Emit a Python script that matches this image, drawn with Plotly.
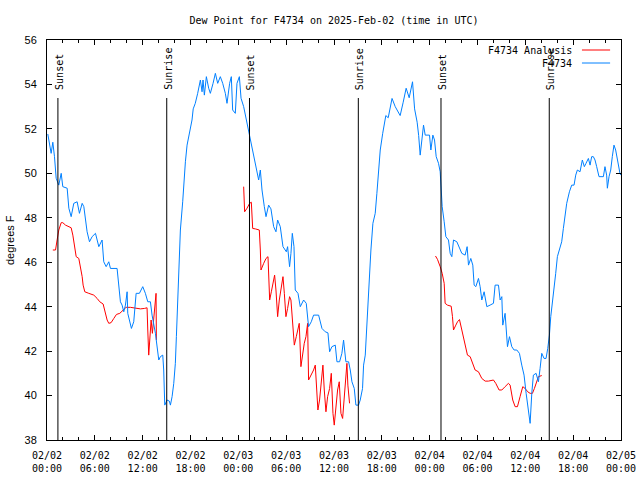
import datetime as dt
import plotly.graph_objects as go

# ---------------- data (hours after 2025-02-02 00:00 UTC, degrees F) -------------
obs_hours = [0.10, 0.31, 0.52, 0.73, 0.94, 1.15, 1.48, 1.78, 1.98, 2.53, 2.74, 3.03, 3.36, 3.78,
             4.07, 4.41, 4.62, 5.03, 5.33, 5.66, 6.08, 6.50, 6.91, 7.12, 7.42, 7.75, 7.96, 8.79,
             9.00, 9.21, 9.42, 9.63, 9.84, 10.05, 10.13, 10.34, 10.59, 10.88, 11.18, 11.59, 12.01,
             12.34, 12.64, 12.97, 13.18, 13.60, 13.81, 14.02, 14.22, 14.52, 14.64, 14.77, 15.06,
             15.35, 15.48, 15.69, 15.90, 16.10, 16.23, 16.40, 16.61, 16.73, 17.02, 17.23, 17.36,
             17.57, 17.86, 18.19, 18.34, 18.60, 18.90,
             19.24, 19.45, 19.57, 19.74, 19.99, 20.28, 20.49, 20.83, 21.12, 21.41, 21.74, 22.04,
             22.37, 22.58, 22.91, 23.12, 23.29, 23.62, 23.83, 24.13, 24.34, 24.67, 25.09, 25.42,
             25.71, 26.05, 26.34, 26.55, 26.76, 26.97, 27.26, 27.47, 27.80, 28.09, 28.43, 28.72,
             28.93, 29.26, 29.60, 30.02, 30.18, 30.43, 30.60, 30.77, 30.98, 31.14, 31.48, 31.77,
             32.19, 32.52, 32.81, 33.15, 33.44, 34.07, 34.49, 34.90, 35.24, 35.45, 35.74, 36.16,
             36.37, 36.70, 36.99, 37.20, 37.49, 37.83, 38.04, 38.25, 38.54, 38.75, 39.08, 39.29,
             39.58, 39.71, 39.92, 40.13, 40.42, 40.63, 40.88, 41.17, 41.38, 41.59, 41.80,
             42.11, 42.50, 42.80, 43.28, 43.68, 44.30, 44.68, 45.05, 45.43, 45.85, 46.11, 46.43,
             46.62,
             46.81, 47.23, 47.44, 47.98, 48.15, 48.40, 48.61, 48.82, 49.11, 49.32, 49.40, 49.57,
             49.82, 50.03, 50.36, 50.57, 50.78, 50.99, 51.41, 51.74, 52.03, 52.45, 52.70, 52.87,
             53.16, 53.41, 53.58, 53.79, 54.12, 54.33, 54.54, 54.83, 55.17, 55.58, 56.00, 56.21,
             56.63, 56.84, 57.05, 57.17, 57.46, 57.76, 58.01, 58.30, 58.59, 58.93, 59.26, 59.55,
             59.84, 60.10, 60.39, 60.60, 60.81, 61.01, 61.35, 61.64, 61.85, 62.06, 62.35, 62.60,
             62.81, 63.02, 63.19, 63.40, 63.60, 63.81, 64.02, 64.27, 64.56, 64.77, 64.98, 65.19,
             65.53, 65.82, 66.11, 66.32, 66.53, 66.86, 67.15, 67.40, 67.61, 67.91, 68.12, 68.32,
             68.53, 68.74, 68.95, 69.24, 69.79, 69.99, 70.20, 70.29, 70.50, 70.71, 70.91, 71.12,
             71.33, 71.54, 71.75, 71.87, 72.00]
obs_values = [51.77, 51.27, 50.90, 51.40, 50.75, 49.78, 49.47, 50.00, 49.40, 49.33, 48.43, 48.05,
              48.65, 48.72, 48.20, 48.65, 48.50, 47.37, 46.92, 47.15, 47.30, 46.70, 47.00, 46.02,
              45.80, 46.02, 45.72, 45.72, 44.97, 44.22, 44.07, 43.77, 44.07, 44.67, 43.70, 43.32,
              43.02, 43.32, 44.60, 44.60, 44.90, 44.60, 44.22, 44.22, 43.62, 42.80, 42.20, 41.60,
              41.75, 41.82, 41.15, 39.57, 39.80, 39.75, 39.57, 39.95, 40.55, 41.45, 42.65, 44.60,
              46.10, 47.45, 48.72, 50.00, 50.52, 51.27, 51.80, 52.40, 52.90, 53.15, 53.60,
              54.20, 53.67, 54.20, 53.52, 54.35, 53.83, 53.60, 54.05, 54.50, 54.05, 54.35, 54.05,
              53.60, 53.15, 54.05, 54.35, 52.85, 52.70, 54.05, 54.35, 53.38, 53.00, 52.25, 51.65,
              51.20, 50.60, 50.15, 49.70, 50.15, 49.25, 48.50, 48.05, 48.57, 48.40, 47.60, 47.37,
              47.90, 47.60, 46.70, 46.47, 46.70, 45.80, 46.40, 47.30, 46.70, 44.75, 44.60, 44.00,
              44.30, 44.15, 43.10, 43.32, 43.62, 43.62, 43.02, 42.87, 42.82, 41.97, 42.20, 42.27,
              41.52, 41.52, 41.90, 42.50, 41.52, 41.52, 41.15, 40.62, 40.32, 39.57, 39.57, 39.80,
              40.32, 41.37, 41.82, 43.40, 44.90, 46.55, 47.75, 48.20, 49.10, 50.00, 51.05,
              51.80, 52.60, 52.50, 53.37, 53.00, 52.60, 53.20, 53.83, 53.40, 54.12, 52.90, 52.30,
              51.70,
              50.82, 52.17, 51.72, 51.72, 51.05, 51.72, 51.50, 50.75, 50.45, 50.07, 49.55, 48.50,
              47.82, 47.15, 47.00, 46.40, 46.25, 47.00, 46.92, 46.62, 46.40, 46.32, 46.70, 45.87,
              46.17, 45.87, 44.97, 44.90, 45.27, 44.90, 44.30, 44.67, 44.00, 44.07, 44.15, 44.97,
              44.97, 44.30, 44.45, 43.17, 43.70, 42.20, 42.65, 42.20, 42.05, 42.05, 41.90, 41.37,
              40.92, 40.10, 39.27, 38.75, 40.10, 40.92, 41.00, 40.62, 41.22, 41.90, 41.67, 41.67,
              42.12, 42.72, 43.55, 44.15, 44.75, 45.50, 46.25, 46.55, 46.92, 47.52, 48.12, 48.65,
              49.17, 49.47, 49.47, 49.92, 50.15, 50.07, 50.60, 50.30, 50.45, 50.67, 50.37, 50.75,
              50.75, 50.60, 50.30, 49.85, 49.85, 50.30, 49.92, 49.33, 49.85, 50.15, 50.75, 51.27,
              51.05, 50.60, 50.15, 50.00, 49.92]

# analysis series; None marks a gap between the daily runs
ana_hours = [0.73, 1.07, 1.27, 1.48, 1.78, 1.98, 2.32, 2.74, 3.03, 3.24, 3.45, 3.66, 3.99, 4.20,
             4.41, 4.53, 4.74, 5.24, 5.87, 6.29, 6.62, 7.04, 7.33, 7.54, 7.75, 8.04, 8.38, 8.71,
             9.13, 9.50, 9.92, 10.46, 11.30, 11.72, 12.22, 12.55, 12.64, 12.76, 12.89, 13.06,
             13.22, 13.39, 13.51, 13.60, 13.68, 13.72,
             None,
             24.67, 24.79, 25.09, 25.42, 25.63, 25.80, 26.13, 26.63, 26.76, 26.84, 27.18, 27.47,
             27.72, 27.80, 27.93, 28.14, 28.35, 28.55, 28.72, 28.93, 29.14, 29.35, 29.60, 29.77,
             29.97, 30.18, 30.43, 30.60, 30.81, 31.02, 31.27, 31.48, 31.64, 31.85, 32.06, 32.27,
             32.48, 32.69, 32.81, 33.15, 33.44, 33.65, 33.86, 33.98, 34.19, 34.40, 34.61, 34.78,
             34.99, 35.20, 35.45, 35.66, 35.87, 36.03, 36.24, 36.45, 36.66, 36.87, 37.08, 37.28,
             37.49, 37.62, 37.74, 37.95,
             None,
             48.73, 48.98, 49.32, 49.57, 49.82, 49.94, 50.23, 50.70, 50.86, 50.99, 51.28, 51.49,
             51.74, 52.03, 52.24, 52.53, 52.74, 53.08, 53.37, 53.70, 54.12, 54.54, 54.96, 55.37,
             56.00, 56.29, 56.71, 57.05, 57.46, 57.88, 58.09, 58.42, 58.72, 59.01, 59.34, 59.68,
             59.97, 60.30, 60.60, 60.89, 61.14, 61.43, 61.64, 62.06]
ana_values = [46.55, 46.55, 47.00, 47.45, 47.78, 47.78, 47.67, 47.60, 47.55, 47.22, 46.70, 46.25,
              46.17, 45.80, 45.35, 44.97, 44.67, 44.60, 44.52, 44.37, 44.22, 44.12, 43.70, 43.40,
              43.25, 43.28, 43.47, 43.65, 43.70, 43.85, 43.97, 43.97, 43.92, 43.90, 43.92, 43.95,
              42.95, 41.82, 42.50, 43.40, 42.80, 43.55, 43.97, 44.30, 44.60, 42.50,
              None,
              49.40, 48.27, 48.43, 48.65, 48.70, 47.52, 47.50, 47.45, 46.55, 45.65, 45.95, 46.17,
              46.25, 45.35, 44.30, 44.67, 45.05, 45.42, 44.75, 43.55, 44.30, 44.90, 45.35, 44.60,
              43.55, 43.92, 44.45, 44.30, 43.10, 42.27, 42.65, 42.95, 43.25, 41.30, 41.90, 42.35,
              42.65, 43.25, 40.70, 40.92, 41.15, 41.37, 40.32, 39.35, 39.80, 40.70, 41.37, 40.25,
              39.27, 39.95, 40.32, 41.00, 39.20, 38.67, 39.35, 40.25, 40.62, 39.20, 38.97, 39.95,
              41.15, 41.45, 40.47, 39.65,
              None,
              46.28, 46.13, 45.80, 45.50, 45.05, 44.15, 44.07, 44.02, 43.55, 42.95, 43.17, 43.32,
              43.42, 42.95, 42.50, 42.05, 41.82, 41.75, 41.45, 41.15, 41.07, 40.77, 40.65, 40.65,
              40.70, 40.55, 40.25, 40.25, 40.40, 40.55, 40.47, 39.80, 39.50, 39.50, 39.95, 40.40,
              40.32, 40.17, 40.10, 40.10, 40.32, 40.62, 40.85, 40.90]

event_labels = ["Sunset", "Sunrise", "Sunset", "Sunrise", "Sunset", "Sunrise"]
event_hours = [1.37, 15.02, 25.40, 39.05, 49.42, 63.00]

tick_hours = [0, 6, 12, 18, 24, 30, 36, 42, 48, 54, 60, 66, 72]
tick_labels = ["02/02<br>00:00", "02/02<br>06:00", "02/02<br>12:00", "02/02<br>18:00",
               "02/03<br>00:00", "02/03<br>06:00", "02/03<br>12:00", "02/03<br>18:00",
               "02/04<br>00:00", "02/04<br>06:00", "02/04<br>12:00", "02/04<br>18:00",
               "02/05<br>00:00"]

series_names = ["F4734 Analysis", "F4734"]
series_colors = ["#ff0000", "#0080ff"]

title_text = "Dew Point for F4734 on 2025-Feb-02 (time in UTC)"
y_title = "degrees F"
y_range = [38, 56]

# ---------------- build -------------
base = dt.datetime(2025, 2, 2)


def to_time(h):
    return None if h is None else base + dt.timedelta(hours=h)


mono = "DejaVu Sans Mono"
sans = "Liberation Sans"

FIG_W, FIG_H = 640, 480

fig = go.Figure()
fig.add_trace(go.Scatter(x=[to_time(h) for h in ana_hours], y=ana_values, mode="lines",
                         line=dict(color=series_colors[0], width=1), connectgaps=False,
                         name=series_names[0], showlegend=False))
fig.add_trace(go.Scatter(x=[to_time(h) for h in obs_hours], y=obs_values, mode="lines",
                         line=dict(color=series_colors[1], width=1),
                         name=series_names[1], showlegend=False))

line_top = 53.39
label_base = 53.66
for lab, h in zip(event_labels, event_hours):
    t = to_time(h)
    fig.add_shape(type="line", xref="x", yref="y", x0=t, x1=t, y0=y_range[0], y1=line_top,
                  line=dict(color="black", width=1))
    fig.add_annotation(x=t, y=label_base, xref="x", yref="y", text=lab, textangle=-90,
                       showarrow=False, xanchor="center", yanchor="bottom", xshift=1,
                       font=dict(family=mono, size=10, color="black"))

# gnuplot-style key: text right-aligned, sample to the right
for i, (nm, col) in enumerate(zip(series_names, series_colors)):
    yp = 0.975 - i * 0.0325
    fig.add_annotation(x=0.918, y=yp, xref="paper", yref="paper", text=nm, showarrow=False,
                       xanchor="right", yanchor="middle",
                       font=dict(family=mono, size=10, color="black"))
    fig.add_shape(type="line", xref="paper", yref="paper", x0=0.932, x1=0.981, y0=yp, y1=yp,
                  line=dict(color=col, width=1))

# y-axis title placed like gnuplot's
fig.add_annotation(x=0, y=0.5, xref="paper", yref="paper", text=y_title, textangle=-90,
                   showarrow=False, xanchor="center", yanchor="middle", xshift=-37,
                   font=dict(family=sans, size=11, color="black"))

fig.update_layout(
    width=FIG_W, height=FIG_H,
    margin=dict(l=47, r=19, t=40, b=40, pad=0),
    paper_bgcolor="white", plot_bgcolor="white",
    title=dict(text=title_text, x=334 / FIG_W, xanchor="center",
               y=1 - 20 / FIG_H, yanchor="middle",
               font=dict(family=mono, size=10, color="black")),
    showlegend=False,
)
fig.update_xaxes(
    range=[to_time(0), to_time(72)], automargin=False,
    tickmode="array", tickvals=[to_time(h) for h in tick_hours], ticktext=tick_labels,
    ticks="inside", ticklen=5, tickcolor="black", tickwidth=1,
    minor=dict(dtick=2 * 3600 * 1000, ticks="inside", ticklen=3, tickcolor="black",
               tick0=to_time(0), showgrid=False),
    showline=True, linecolor="black", linewidth=1, mirror="ticks",
    showgrid=False, zeroline=False, ticklabelstandoff=6,
    tickfont=dict(family=mono, size=10, color="black"),
)
fig.update_yaxes(
    range=y_range, dtick=2, tick0=38, automargin=False,
    ticks="inside", ticklen=5, tickcolor="black", tickwidth=1,
    showline=True, linecolor="black", linewidth=1, mirror="ticks",
    showgrid=False, zeroline=False, ticklabelstandoff=7,
    tickfont=dict(family=sans, size=11, color="black"),
)

# place the figure at the window's corner, as the reference image is
fig.write_html("out.html",
               config={"displayModeBar": False},
               post_script="document.body.style.margin='0';"
                           "document.body.style.overflow='hidden';")
